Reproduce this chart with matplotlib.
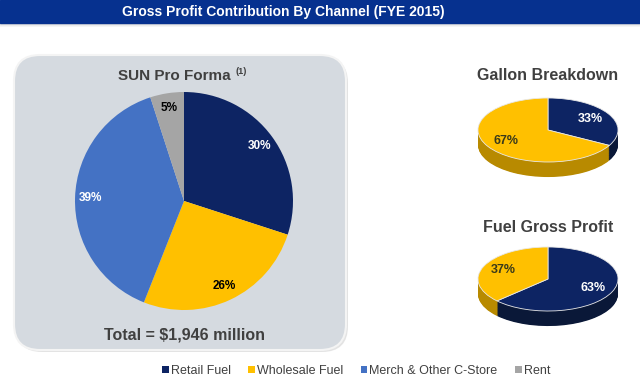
import matplotlib.pyplot as plt
import numpy as np
from matplotlib.patches import Rectangle, FancyBboxPatch

plt.rcParams['font.family'] = ['Liberation Sans', 'DejaVu Sans']

title = 'Gross Profit Contribution By Channel (FYE 2015)'
channels = ['Retail Fuel', 'Wholesale Fuel', 'Merch & Other C-Store', 'Rent']
sun_share = [30, 26, 39, 5]
total_label = 'Total = $1,946 million'

gallon_share = [33, 67]      # retail, wholesale
fuel_gp_share = [63, 37]     # retail, wholesale

colors = ['#0D2463', '#FFC000', '#4472C4', '#A5A5A5']
side_colors = ['#0A1838', '#B88A00']
txt = '#404040'

fig = plt.figure(figsize=(6.4, 3.81), dpi=100)
bg = fig.add_axes([0, 0, 1, 1])
bg.set_xlim(0, 640)
bg.set_ylim(381, 0)
bg.axis('off')

# header bar
bg.add_patch(Rectangle((0, 0), 640, 23, color='#06318F', zorder=2))
for i, a in enumerate([0.35, 0.25, 0.15, 0.08]):
    bg.add_patch(Rectangle((0, 23 + i), 640, 1, color='#808080', alpha=a, lw=0))
bg.text(283, 12, title, color='white', fontsize=10, weight='bold',
        ha='center', va='center', zorder=3)

# grey rounded panel
bg.add_patch(FancyBboxPatch((16, 57), 332, 295, boxstyle='round,pad=0,rounding_size=26',
                            fc='#C9C9C9', ec='none', alpha=0.5))
bg.add_patch(FancyBboxPatch((14, 55), 332, 295, boxstyle='round,pad=0,rounding_size=26',
                            fc='#D5DAE0', ec='#F4F4F4', lw=1.5))
bg.text(118, 76, 'SUN Pro Forma', fontsize=11, weight='bold', color=txt,
        ha='left', va='center')
bg.text(236, 71, '(1)', fontsize=6.5, weight='bold', color=txt, ha='left', va='center')
bg.text(184.5, 335, total_label, fontsize=11.5, weight='bold', color=txt,
        ha='center', va='center')

# main pie
ax = fig.add_axes([75 / 640, (381 - 310) / 381, 218 / 640, 218 / 381])
wedges, _, autotexts = ax.pie(sun_share, colors=colors, startangle=90, counterclock=False,
                              autopct='%.0f%%', pctdistance=0.86,
                              wedgeprops=dict(linewidth=0))
for t, c in zip(autotexts, ['white', 'black', 'white', 'black']):
    t.set_color(c)
    t.set_fontsize(8.5)
    t.set_fontweight('bold')
ax.set_xlim(-1, 1)
ax.set_ylim(-1, 1)


def pie3d(values, top, label_colors, heading, head_y):
    # axes spans the ellipse (x 478-618) from top of ellipse to bottom of the side
    depth = 0.47
    height = 64 * (2 + depth) / 2
    a = fig.add_axes([478 / 640, (381 - top - height) / 381, 140 / 640, height / 381])
    for d in np.linspace(depth, 0.02, 24):
        a.pie(values, colors=side_colors, startangle=90, counterclock=False,
              center=(0, -d), wedgeprops=dict(linewidth=0))
    _, _, at = a.pie(values, colors=colors[:2], startangle=90, counterclock=False,
                     autopct='%.0f%%', pctdistance=0.7,
                     wedgeprops=dict(linewidth=0.6, edgecolor='#E8E8E8'))
    for t, c in zip(at, label_colors):
        t.set_color(c)
        t.set_fontsize(9)
        t.set_fontweight('bold')
    a.set_aspect('auto')
    a.set_xlim(-1, 1)
    a.set_ylim(-1 - depth, 1)
    bg.text(548, head_y, heading, fontsize=11.5, weight='bold', color=txt,
            ha='center', va='center')


pie3d(gallon_share, 98, ['white', '#3A3A1A'], 'Gallon Breakdown', 76)
pie3d(fuel_gp_share, 247, ['white', '#3A3A1A'], 'Fuel Gross Profit', 228)

fig.legend(wedges, channels, loc='center', bbox_to_anchor=(356 / 640, 1 - 371 / 381),
           ncol=4, frameon=False, handlelength=0.55, handleheight=0.55,
           handletextpad=0.15, columnspacing=1.4, fontsize=9, labelcolor=txt)

fig.savefig('out.png', dpi=100)
